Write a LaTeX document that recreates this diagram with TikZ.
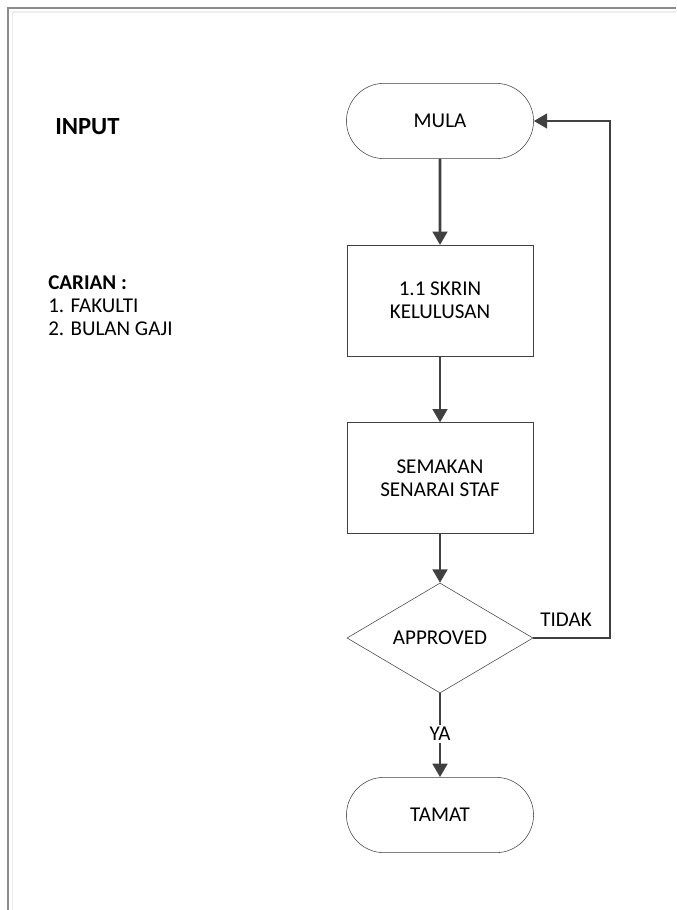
\documentclass[tikz,border=0pt]{standalone}
\usepackage{fontspec}
\setmainfont{Carlito}
\usetikzlibrary{shapes.misc,shapes.geometric,arrows.meta}
\definecolor{linegrey}{HTML}{404040}
\definecolor{framegrey}{HTML}{8C8C8C}

\begin{document}
\begin{tikzpicture}[x=0.75pt,y=-0.75pt]
  \tikzstyle{every node}+=[font=\fontsize{15.8}{17.25}\selectfont, text=black]
  \tikzstyle{terminal}=[rounded rectangle, draw=linegrey, fill=white, minimum width=147pt, minimum height=56.5pt]
  \tikzstyle{process}=[rectangle, draw=linegrey, fill=white, minimum width=139.5pt, minimum height=83pt, align=center]
  \tikzstyle{decision}=[diamond, draw=linegrey, fill=white, minimum width=139.5pt, minimum height=82.5pt, inner sep=0pt]
  \tikzstyle{flow}=[draw=linegrey, line width=2pt, -{Triangle[length=10pt,width=11pt]}]
  \useasboundingbox (0,0) rectangle (676,910);
  % page frame
  \draw [framegrey, line width=1.5pt] (8,910) -- (8,7.5) -- (676,7.5);
  \draw [black!7, line width=1pt] (12.5,910) -- (12.5,12) -- (676,12);
  % left side notes
  \node [anchor=west, inner sep=0pt, font=\fontsize{18.5}{20}\selectfont\bfseries] (input) at (55,127) {INPUT};
  \node [anchor=west, inner sep=0pt, align=left] (carian) at (48,306)
    {\bfseries CARIAN :\\1. FAKULTI\\2. BULAN GAJI};
  % flow chart
  \node [terminal] (mula) at (440,121) {MULA};
  \node [process] (skrin) at (440,300.5) {1.1 SKRIN\\KELULUSAN};
  \node [process] (semak) at (440,478) {SEMAKAN\\SENARAI STAF};
  \node [decision] (lulus) at (440,638) {APPROVED};
  \node [terminal] (tamat) at (440,815) {TAMAT};
  \coordinate (balik) at (610,638);
  \draw [flow] (mula) -- (skrin);
  \draw [flow] (skrin) -- (semak);
  \draw [flow] (semak) -- (lulus);
  \draw [flow] (lulus.south) -- (tamat.north);
  \draw [flow] (lulus.east) -- (balik) |- (mula.east);
  \node [fill=white, inner sep=1.5pt] (ya) at (440,734) {YA};
  \node (tidak) at (566,620) {TIDAK};
\end{tikzpicture}
\end{document}
